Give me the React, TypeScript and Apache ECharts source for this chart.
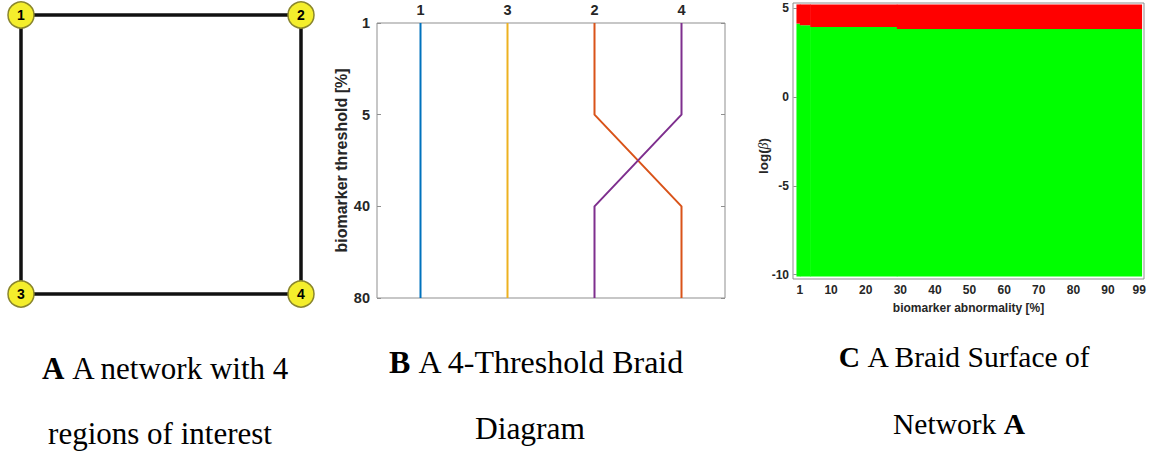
import React, { useEffect, useRef } from "react";
import * as echarts from "echarts";

// ---------- Panel A: network ----------
const networkNodes = ["1", "2", "3", "4"];
const nodeX = [0, 1, 0, 1];
const nodeY = [1, 1, 0, 0];
const networkEdges: [string, string][] = [
  ["1", "2"],
  ["1", "3"],
  ["2", "4"],
  ["3", "4"],
];

// ---------- Panel B: braid diagram ----------
const thresholds = ["1", "5", "40", "80"];
const regions = ["1", "2", "3", "4"];
// order of regions (left to right) at each threshold
const braidOrder = [
  ["1", "3", "2", "4"],
  ["1", "3", "2", "4"],
  ["1", "3", "4", "2"],
  ["1", "3", "4", "2"],
];
const regionColors: Record<string, string> = {
  "1": "#0072BD",
  "2": "#D95319",
  "3": "#EDB120",
  "4": "#7E2F8E",
};

// ---------- Panel C: braid surface ----------
const segmentEdges = [0, 1, 4, 29, 99.7];
const boundaryLevels = [4.12, 4.03, 3.93, 3.82];
const surfaceMin = -10.1;
const surfaceMax = 5.2;
const abnormalityTicks = [1, 10, 20, 30, 40, 50, 60, 70, 80, 90, 99];
const betaTicks = [-10, -5, 0, 5];

const SANS = "'Liberation Sans', Arial, Helvetica, sans-serif";
const SERIF = "'Liberation Serif', 'Times New Roman', serif";
const TXT = "#262626";
const FRAME = "#8f8f8f";

export default function App() {
  const ref = useRef<HTMLDivElement>(null);

  useEffect(() => {
    if (!ref.current) return;
    const chart = echarts.init(ref.current, undefined, { renderer: "svg" });

    const braidSeries = regions.map((r) => ({
      type: "line",
      xAxisIndex: 1,
      yAxisIndex: 1,
      data: thresholds.map((_, li) => [braidOrder[li].indexOf(r), li]),
      symbol: "none",
      lineStyle: { color: regionColors[r], width: 2 },
      itemStyle: { color: regionColors[r] },
      silent: true,
    }));

    const surfaceData = boundaryLevels.map((lvl, i) => [
      segmentEdges[i],
      segmentEdges[i + 1],
      lvl,
    ]);

    const axisLbl = (size: number) => ({
      color: TXT,
      fontFamily: SANS,
      fontWeight: "bold" as const,
      fontSize: size,
    });

    const caption = (
      x: number,
      y: number,
      text: string,
      size: number
    ) => ({
      type: "text",
      x,
      y,
      style: {
        text,
        fill: "#000",
        font: `${size}px ${SERIF}`,
        align: "center",
        verticalAlign: "middle",
        rich: { b: { fontWeight: "bold", fontSize: size, fontFamily: SERIF, fill: "#000" } },
      },
    });

    const option: any = {
      animation: false,
      grid: [
        { left: 21, top: 15, width: 280, height: 279 },
        {
          left: 377,
          top: 23,
          width: 348,
          height: 275,
          show: true,
          borderColor: FRAME,
          borderWidth: 1,
          backgroundColor: "transparent",
        },
        {
          left: 793,
          top: 3,
          width: 351,
          height: 276,
          show: true,
          borderColor: FRAME,
          borderWidth: 1,
          backgroundColor: "transparent",
        },
      ],
      xAxis: [
        { gridIndex: 0, type: "value", min: 0, max: 1, show: false },
        {
          gridIndex: 1,
          type: "category",
          position: "top",
          data: braidOrder[0],
          boundaryGap: true,
          axisLine: { show: false },
          axisTick: { show: false },
          axisLabel: { ...axisLbl(14.5), margin: 6 },
          splitLine: { show: false },
        },
        {
          gridIndex: 2,
          type: "value",
          min: -1,
          max: 100.4,
          position: "bottom",
          axisLine: { show: false },
          axisTick: {
            show: true,
            inside: true,
            length: 3,
            customValues: abnormalityTicks,
            lineStyle: { color: FRAME },
          },
          axisLabel: { ...axisLbl(12), margin: 5, customValues: abnormalityTicks },
          splitLine: { show: false },
          name: "biomarker abnormality [%]",
          nameLocation: "middle",
          nameGap: 23,
          nameTextStyle: axisLbl(12),
        },
        {
          gridIndex: 2,
          type: "value",
          min: -1,
          max: 100.4,
          position: "top",
          axisLine: { show: false },
          axisTick: {
            show: true,
            inside: true,
            length: 3,
            customValues: abnormalityTicks,
            lineStyle: { color: FRAME },
          },
          axisLabel: { show: false },
          splitLine: { show: false },
        },
      ],
      yAxis: [
        { gridIndex: 0, type: "value", min: 0, max: 1, show: false },
        {
          gridIndex: 1,
          type: "category",
          data: thresholds,
          inverse: true,
          boundaryGap: false,
          axisLine: { show: false },
          axisTick: {
            show: true,
            inside: true,
            length: 4,
            lineStyle: { color: FRAME },
          },
          axisLabel: { ...axisLbl(14.5), margin: 7 },
          splitLine: { show: false },
          name: "biomarker threshold [%]",
          nameLocation: "middle",
          nameGap: 27,
          nameTextStyle: axisLbl(16),
        },
        {
          gridIndex: 1,
          type: "category",
          position: "right",
          data: thresholds,
          inverse: true,
          boundaryGap: false,
          axisLine: { show: false },
          axisTick: {
            show: true,
            inside: true,
            length: 4,
            lineStyle: { color: FRAME },
          },
          axisLabel: { show: false },
          splitLine: { show: false },
        },
        {
          gridIndex: 2,
          type: "value",
          min: -10.24,
          max: 5.28,
          axisLine: { show: false },
          axisTick: {
            show: true,
            inside: true,
            length: 3,
            customValues: betaTicks,
            lineStyle: { color: FRAME },
          },
          axisLabel: { ...axisLbl(12), margin: 4, customValues: betaTicks },
          splitLine: { show: false },
        },
        {
          gridIndex: 2,
          type: "value",
          position: "right",
          min: -10.24,
          max: 5.28,
          axisLine: { show: false },
          axisTick: {
            show: true,
            inside: true,
            length: 3,
            customValues: betaTicks,
            lineStyle: { color: FRAME },
          },
          axisLabel: { show: false },
          splitLine: { show: false },
        },
      ],
      series: [
        {
          type: "graph",
          coordinateSystem: "cartesian2d",
          xAxisIndex: 0,
          yAxisIndex: 0,
          data: networkNodes.map((n, i) => ({ name: n, value: [nodeX[i], nodeY[i]] })),
          links: networkEdges.map(([s, t]) => ({ source: s, target: t })),
          symbol: "circle",
          symbolSize: 26,
          itemStyle: { color: "#F4EE2C", borderColor: "#8A862C", borderWidth: 1.5 },
          label: {
            show: true,
            position: "inside",
            color: "#000",
            fontFamily: SANS,
            fontWeight: "bold",
            fontSize: 14,
          },
          lineStyle: { color: "#111", width: 3.5, opacity: 1 },
          silent: true,
        },
        ...braidSeries,
        {
          type: "custom",
          xAxisIndex: 2,
          yAxisIndex: 3,
          data: surfaceData,
          encode: { x: [0, 1], y: 2 },
          silent: true,
          renderItem: (params: any, api: any) => {
            const x0 = api.value(0);
            const x1 = api.value(1);
            const lvl = api.value(2);
            const bl = api.coord([x0, surfaceMin]);
            const tr = api.coord([x1, surfaceMax]);
            const mid = api.coord([x0, lvl]);
            return {
              type: "group",
              children: [
                {
                  type: "rect",
                  shape: { x: bl[0], y: mid[1], width: tr[0] - bl[0] + 0.5, height: bl[1] - mid[1] },
                  style: { fill: "#00FF00" },
                },
                {
                  type: "rect",
                  shape: { x: bl[0], y: tr[1], width: tr[0] - bl[0] + 0.5, height: mid[1] - tr[1] },
                  style: { fill: "#FF0000" },
                },
              ],
            };
          },
        },
      ],
      graphic: [
        {
          type: "text",
          x: 763,
          y: 156,
          rotation: Math.PI / 2,
          style: {
            text: "log({b|β})",
            fill: TXT,
            font: `bold 13.5px ${SANS}`,
            align: "center",
            verticalAlign: "middle",
            rich: {
              b: { fontStyle: "italic", fontWeight: "normal", fontSize: 14, fontFamily: SERIF, fill: TXT },
            },
          },
        },
        caption(166, 368, "{b|A} A network with 4", 31),
        caption(160, 433, "regions of interest", 31),
        caption(537, 362, "{b|B} A 4-Threshold Braid", 32),
        caption(530, 428, "Diagram", 31.5),
        caption(965, 357, "{b|C} A Braid Surface of", 29.5),
        caption(959, 424, "Network {b|A}", 29.5),
      ],
    };

    chart.setOption(option);
    return () => chart.dispose();
  }, []);

  return (
    <div
      ref={ref}
      style={{ position: "fixed", left: 0, top: 0, width: 1151, height: 452, background: "#fff" }}
    />
  );
}
